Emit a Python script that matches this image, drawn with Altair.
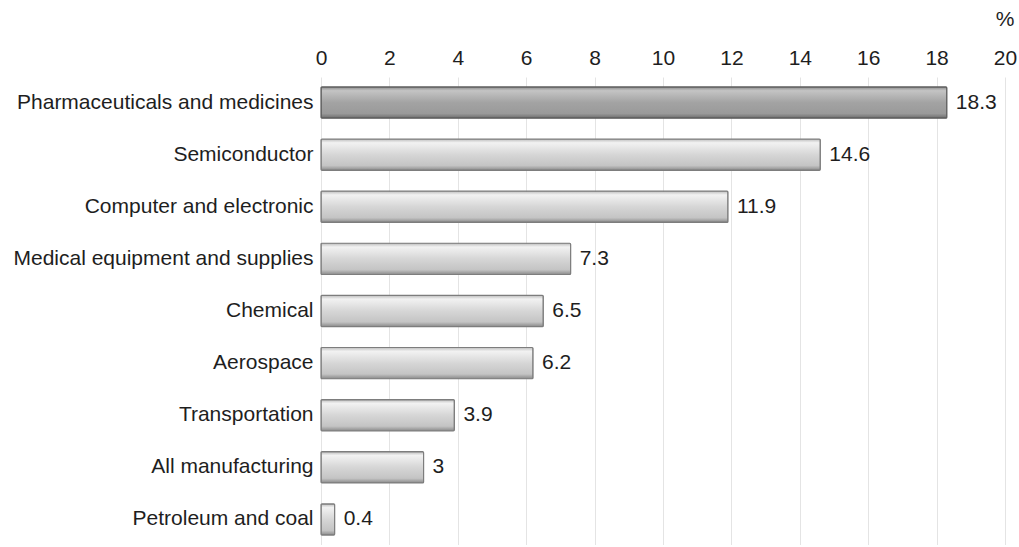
import altair as alt
import pandas as pd

categories = [
    "Pharmaceuticals and medicines",
    "Semiconductor",
    "Computer and electronic",
    "Medical equipment and supplies",
    "Chemical",
    "Aerospace",
    "Transportation",
    "All manufacturing",
    "Petroleum and coal",
]
values = [18.3, 14.6, 11.9, 7.3, 6.5, 6.2, 3.9, 3.0, 0.4]
highlight = ["Pharmaceuticals and medicines"]
x_ticks = [0, 2, 4, 6, 8, 10, 12, 14, 16, 18, 20]

df = pd.DataFrame({"category": categories, "value": values})
df["label"] = [f"{v:g}" for v in values]
df["hl"] = df["category"].isin(highlight)

FONT = "Liberation Sans"
FS = 21
TXT = "#1e1e1e"

y_enc = alt.Y(
    "category:N",
    sort=categories,
    scale=alt.Scale(paddingInner=0.4, paddingOuter=0.19),
    axis=alt.Axis(
        title=None, domain=False, ticks=False, grid=False,
        labelFont=FONT, labelFontSize=FS, labelColor=TXT, labelPadding=8,
        labelLimit=400,
    ),
)
x_enc = alt.X(
    "value:Q",
    scale=alt.Scale(domain=[0, 20], nice=False),
    axis=alt.Axis(
        orient="top", values=x_ticks, domain=False, ticks=False,
        grid=True, gridColor="#e4e4e4", gridWidth=1,
        labelFont=FONT, labelFontSize=FS, labelColor=TXT, labelPadding=9,
        labelFlush=False,
        title="%", titleFont=FONT, titleFontSize=FS, titleFontWeight="normal",
        titleColor=TXT, titleAngle=0, titleAlign="right",
        titleBaseline="middle", titleX=693, titleY=-58,
    ),
)

light = alt.Gradient(
    gradient="linear", x1=0, y1=0, x2=0, y2=1,
    stops=[
        alt.GradientStop(offset=0, color="#bdbdbd"),
        alt.GradientStop(offset=0.12, color="#f2f2f2"),
        alt.GradientStop(offset=0.5, color="#d6d6d6"),
        alt.GradientStop(offset=0.85, color="#c4c4c4"),
        alt.GradientStop(offset=1, color="#8a8a8a"),
    ],
)
dark = alt.Gradient(
    gradient="linear", x1=0, y1=0, x2=0, y2=1,
    stops=[
        alt.GradientStop(offset=0, color="#8c8c8c"),
        alt.GradientStop(offset=0.12, color="#c4c4c4"),
        alt.GradientStop(offset=0.5, color="#a3a3a3"),
        alt.GradientStop(offset=0.85, color="#9a9a9a"),
        alt.GradientStop(offset=1, color="#6e6e6e"),
    ],
)

base = alt.Chart(df)

bars_light = base.transform_filter("!datum.hl").mark_bar(
    fill=light, stroke="#7d7d7d", strokeWidth=1.2, cornerRadius=1
).encode(x=x_enc, y=y_enc)

bars_dark = base.transform_filter("datum.hl").mark_bar(
    fill=dark, stroke="#5e5e5e", strokeWidth=1.2, cornerRadius=1
).encode(x="value:Q", y=alt.Y("category:N", sort=categories))

labels = base.mark_text(
    align="left", baseline="middle", dx=9, font=FONT, fontSize=FS, color=TXT
).encode(x="value:Q", y=alt.Y("category:N", sort=categories), text="label:N")

chart = (
    alt.layer(bars_light, bars_dark, labels)
    .properties(
        width=684, height=468,
        autosize=alt.AutoSizeParams(type="none"),
        padding={"left": 321, "top": 77, "right": 14, "bottom": 0},
        background="white",
    )
    .configure_view(stroke=None)
)

chart.save("out.html", embed_options={"renderer": "svg", "actions": False})
